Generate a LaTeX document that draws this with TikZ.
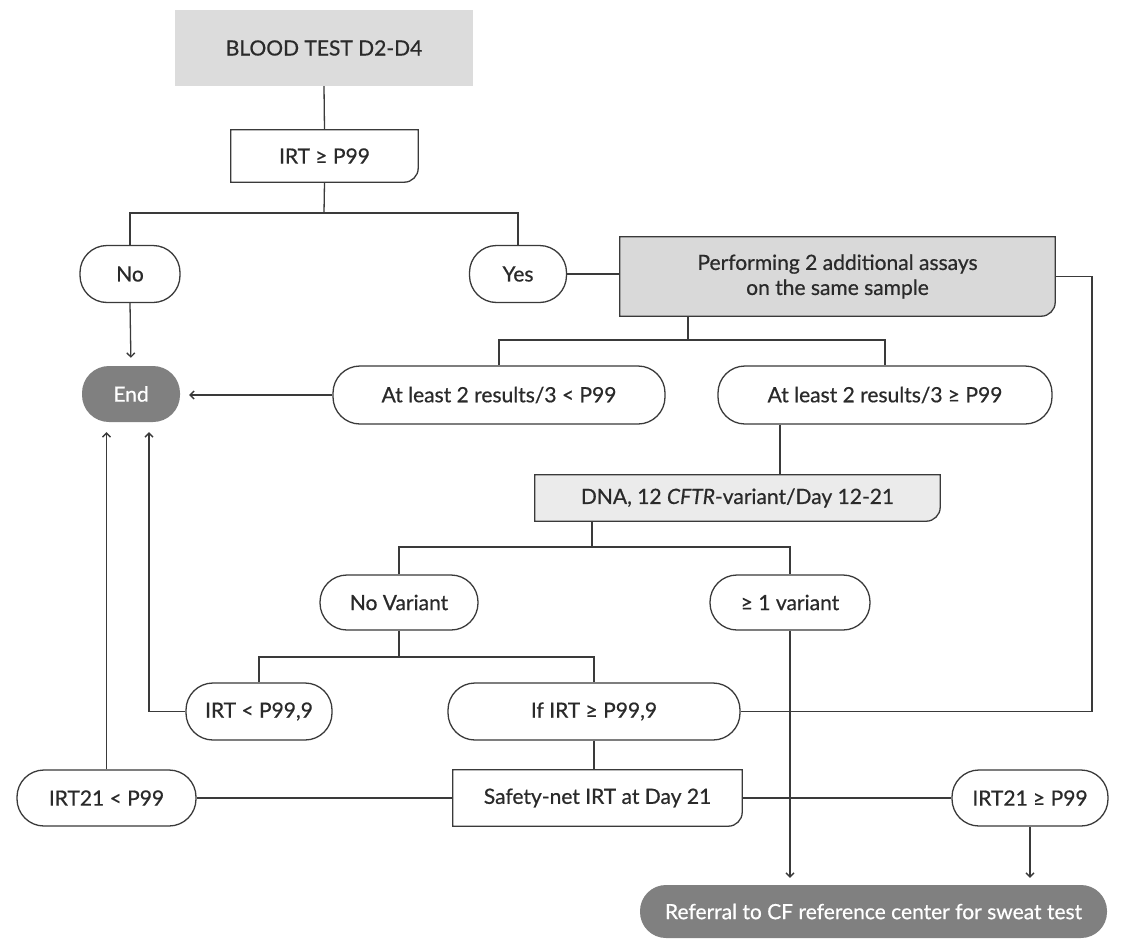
\documentclass[tikz,border=0pt]{standalone}
\usepackage{fontspec}
\setmainfont{Lato}[FakeBold=0.6]
\usetikzlibrary{backgrounds,arrows.meta}
\definecolor{lc}{HTML}{3A3A3A}
\definecolor{tc}{HTML}{2A2A2A}
\definecolor{gA}{HTML}{DCDCDC}
\definecolor{gB}{HTML}{D9D9D9}
\definecolor{gC}{HTML}{EBEBEB}
\definecolor{gD}{HTML}{808080}
\newcommand\cornerline[2]{%
  \draw[conn, fill=#2] (#1.north west) -- (#1.north east) -- ([yshift=14pt]#1.south east)
    arc[start angle=0, end angle=-90, radius=14pt] -- (#1.south west) -- cycle;}
\begin{document}
\begin{tikzpicture}[x=1pt, y=-1pt,
  every node/.style={font=\fontsize{21}{25}\selectfont, text=tc, inner sep=0pt},
  conn/.style={draw=lc, line width=1.3pt},
  arr/.style={conn, -{Straight Barb[length=4pt,width=8pt]}},
  pill/.style={draw=lc, line width=1.3pt, fill=white, rounded corners=27pt},
  dark/.style={fill=gD, text=white, rounded corners=27pt},
  cornerbox/.style={align=center}]
\useasboundingbox (0,0) rectangle (1131,950);

% nodes
\node[fill=gA, minimum width=298pt, minimum height=76pt] (blood) at (324,48) {BLOOD TEST D2-D4};
\node[cornerbox, minimum width=187pt, minimum height=52pt] (irt) at (324.5,156) {IRT ≥ P99};
\node[pill, minimum width=100pt, minimum height=57pt] (no) at (130,274) {No};
\node[pill, minimum width=97pt, minimum height=57pt] (yes) at (518,274) {Yes};
\node[cornerbox, minimum width=435pt, minimum height=79pt] (perf) at (837.5,276.5) {Performing 2 additional assays\\on the same sample};
\node[pill, minimum width=332pt, minimum height=58pt] (lt) at (499,395) {At least 2 results/3 < P99};
\node[pill, minimum width=334pt, minimum height=58pt] (ge) at (885,395) {At least 2 results/3 ≥ P99};
\node[dark, minimum width=98pt, minimum height=56pt] (end) at (131,394) {End};
\node[cornerbox, minimum width=405pt, minimum height=46pt] (dna) at (737.5,498) {DNA, 12 \textit{CFTR}-variant/Day 12-21};
\node[pill, minimum width=158pt, minimum height=55pt] (nov) at (399,602.5) {No Variant};
\node[pill, minimum width=160pt, minimum height=55pt] (var) at (790,602.5) {≥ 1 variant};
\node[pill, minimum width=146pt, minimum height=57pt] (lt9) at (259,711.5) {IRT < P99,9};
\node[pill, minimum width=292pt, minimum height=57pt] (ge9) at (594,711.5) {If IRT ≥ P99,9};
\node[cornerbox, minimum width=289pt, minimum height=56pt] (safe) at (597.5,798) {Safety-net IRT at Day 21};
\node[pill, minimum width=179pt, minimum height=56pt] (l21) at (106.5,798) {IRT21 < P99};
\node[pill, minimum width=156pt, minimum height=56pt] (g21) at (1030,798) {IRT21 ≥ P99};
\node[dark, rounded corners=26pt, minimum width=467pt, minimum height=53pt] (ref) at (873.5,911.5) {Referral to CF reference center for sweat test};

\begin{scope}[on background layer]
\fill[white] (0,0) rectangle (1131,950);
\cornerline{irt}{white}
\cornerline{perf}{gB}
\cornerline{dna}{gC}
\cornerline{safe}{white}
\end{scope}

% junctions
\coordinate (b1) at (324,213);
\coordinate (b2) at (688,340);
\coordinate (c3) at (780,0);
\coordinate (b3) at (592,547);
\coordinate (b4) at (399,657);
\coordinate (c5) at (1092,0);
\coordinate (c6) at (149,0);

% connectors
\draw[conn] (blood.south) -- (irt.north);
\draw[conn] (irt.south) -- (b1);
\draw[conn] (no.north) |- (b1) -| (yes.north);
\draw[arr, shorten >=8pt] (no.south) -- (end.north);
\draw[conn] (yes.east) -- (yes.east -| perf.west);
\draw[conn] (perf.south -| b2) -- (b2);
\draw[conn] (lt.north) |- (b2) -| (ge.north);
\draw[arr, shorten >=9pt] (lt.west) -- (lt.west -| end.east);
\draw[conn] (ge.south -| c3) -- (dna.north -| c3);
\draw[conn] (dna.south -| b3) -- (b3);
\draw[conn] (nov.north) |- (b3) -| (var.north);
\draw[arr, shorten >=7pt] (var.south) -- (var.south |- ref.north);
\draw[conn] (nov.south) -- (b4);
\draw[conn] (lt9.north) |- (b4) -| (ge9.north);
\draw[arr, shorten >=10pt] (lt9.west) -| (c6 |- end.south);
\draw[conn] (ge9.east) -- (ge9.east -| c5) |- (perf.east);
\draw[conn] (ge9.south) -- (safe.north -| ge9.south);
\draw[conn] (safe.west) -- (l21.east);
\draw[conn] (safe.east) -- (g21.west);
\draw[arr, shorten >=10pt] (l21.north) -- (l21.north |- end.south);
\draw[arr, shorten >=7pt] (g21.south) -- (g21.south |- ref.north);
\end{tikzpicture}
\end{document}
